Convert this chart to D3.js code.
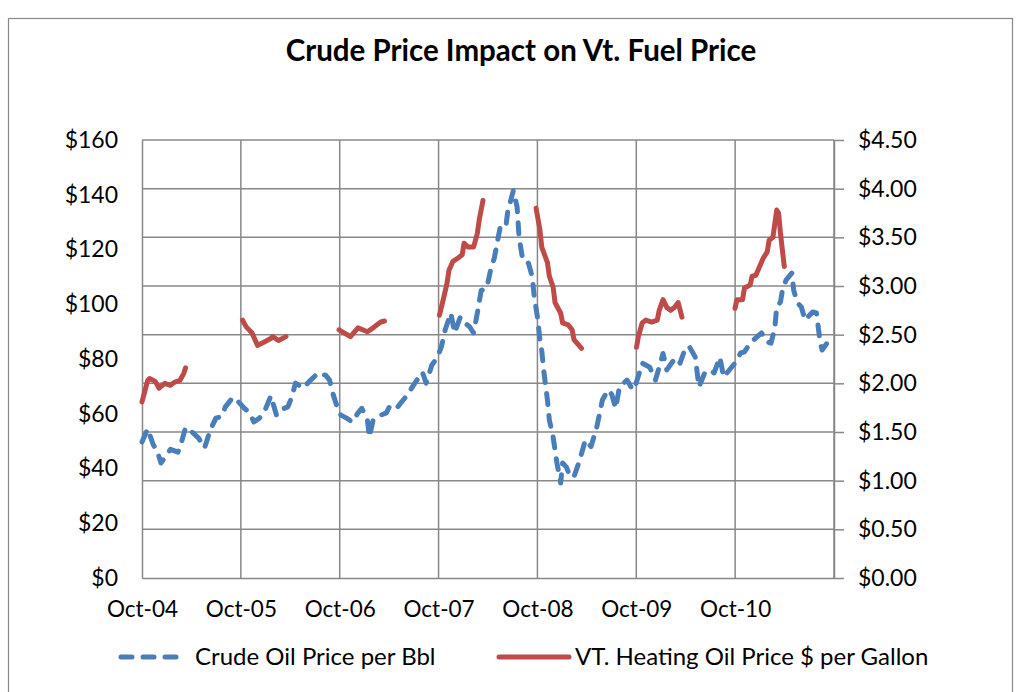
<!DOCTYPE html>
<html><head><meta charset="utf-8">
<script src="https://cdn.jsdelivr.net/npm/d3@7"></script>
<style>
body{margin:0;background:#fff}
text{font-family:Lato,"Open Sans",sans-serif;fill:#000}
</style>
</head><body>
<svg id="c" width="1023" height="692"></svg>
<script>
// ---- data ----
const title = "Crude Price Impact on Vt. Fuel Price";
const tickLabels = ["Oct-04","Oct-05","Oct-06","Oct-07","Oct-08","Oct-09","Oct-10"];
const leftTicks = [0,20,40,60,80,100,120,140,160];
const rightTicks = [0,0.5,1,1.5,2,2.5,3,3.5,4,4.5];
const seriesNames = ["Crude Oil Price per Bbl","VT. Heating Oil Price $ per Gallon"];
// [weeks since Oct-04, $ per barrel]
const crude = [[0,49.7],[3,54.5],[6,48.6],[8,46.5],[10,42],[12,44],[15,47],[19,46],[21,50],[23,55],
[27,53],[30,51],[33,47.5],[36,54],[39,58.4],[42,59],[44,62.5],[48,66],[51,64.3],[54,62],
[57,60.3],[59,57],[62,58.4],[65,61.4],[68,66.5],[71,59.5],[73,61.4],[77,62.5],[79,66],[81,71.2],
[85,69.4],[89,72.3],[93,74.9],[97,74],[99,72.3],[101,66.8],[103,62.5],[105,59.5],[108,58.4],[111,57],
[114,60.3],[116,62],[119,57.7],[120,51.5],[122,57.7],[126,59.5],[129,60.3],[131,63.2],[135,62.5],[137,64.3],
[140,66.8],[144,71.2],[148,75.2],[150,71.2],[153,77.8],[156,80.7],[158,84.4],[160,90.6],[163,96.8],[165,89.5],
[168,95.3],[170,93.5],[173,91.7],[175,89.5],[177,96.8],[179,105],[182,106],[184,112.5],[186,117],[189,128],
[192,128],[193,133.7],[196,141.5],[198,135.5],[199,124.6],[201,116],[204,115],[206,110],[207,103],[209,94],
[210,87],[211,83],[212,76],[214,65],[215,57.7],[217,51.5],[218,46.8],[219,42],[221,34.7],[222,42],
[224,40.5],[226,37],[228,37],[231,43],[234,50.4],[237,48],[240,55],[243,65],[246,68.7],[248,67],
[250,62],[252,69.8],[256,72.3],[259,68.7],[260,69.4],[263,76],[264,78.5],[268,77],[271,72.3],[273,77],
[275,82],[277,76],[280,79],[282,80.4],[284,78.5],[287,84.4],[289,84.4],[292,80.7],[294,69.8],[297,74.9],
[300,76],[302,74.9],[305,80.7],[307,73.4],[310,76],[313,78.5],[316,82.2],[318,82.6],[321,85.8],[324,87.7],
[327,89.5],[330,86.2],[332,85.8],[334,91.3],[335,99],[337,100.8],[338,105],[340,108.9],[343,111.4],[344,105],
[346,100.5],[348,99],[350,94.2],[351,95],[354,97.2],[356,96.8],[357,91.3],[358,85.8],[359,83.3],[362,86.2],[364,84]];
// heating seasons: [weeks since Oct-04, $ per gallon]
const heat0405 = [[0,1.81],[3,2.03],[4,2.05],[7,2.02],[9,1.95],[12,2.0],[15,1.98],[17,2.01],[20,2.03],[22,2.1],[23,2.16]];
const heat0506 = [[53,2.65],[55,2.58],[58,2.52],[61,2.39],[64,2.42],[68,2.46],[69,2.48],[72,2.44],[76,2.48]];
const heat0607 = [[104,2.55],[110,2.48],[114,2.57],[119,2.53],[122,2.57],[126,2.63],[128,2.64]];
const heat0708 = [[157,2.70],[159,2.86],[161,3.03],[162,3.16],[164,3.25],[167,3.29],[169,3.32],[170,3.44],[172,3.40],[175,3.40],[177,3.54],[178,3.68],[180,3.88]];
const heat0809 = [[208,3.80],[210,3.58],[211,3.40],[214,3.24],[215,3.10],[217,2.99],[218,2.83],[221,2.72],[222,2.62],[225,2.60],[227,2.55],[228,2.45],[232,2.36]];
const heat0910 = [[261,2.37],[262,2.48],[264,2.62],[266,2.65],[269,2.63],[272,2.65],[273,2.75],[275,2.86],[277,2.78],[279,2.75],[281,2.78],[283,2.83],[285,2.68]];
const heat1011 = [[313,2.77],[314,2.86],[317,2.86],[318,2.98],[321,3.01],[322,3.10],[324,3.11],[326,3.20],[328,3.29],[330,3.35],[331,3.47],[333,3.50],[335,3.78],[336,3.75],[337,3.54],[339,3.20]];
const heatSeasons = [heat0405,heat0506,heat0607,heat0708,heat0809,heat0910,heat1011];

// ---- layout ----
const L = 142, R = 834, T = 140, B = 578;
const weeksPerYear = 365.25/7;
const BLUE = "#4A7EBB", RED = "#BE4B48", GRID = "#888888";
const DASH = "11 11";
const svg = d3.select("#c");

const x = d3.scaleLinear().domain([0, weeksPerYear*7]).range([L, R]);
const yL = d3.scaleLinear().domain([0,160]).range([B, T]);
const yR = d3.scaleLinear().domain([0,4.5]).range([B, T]);

// outer border
svg.append("rect").attr("x",8.5).attr("y",18.5).attr("width",1004).attr("height",700)
  .attr("fill","#fff").attr("stroke","#888").attr("stroke-width",1.2);

// title
svg.append("text").attr("x",521).attr("y",61).attr("text-anchor","middle")
  .style("font-size","29.5px").style("font-weight","bold").text(title);

// horizontal gridlines (right axis ticks)
svg.append("g").selectAll("line").data(rightTicks.filter(d=>d>0)).join("line")
  .attr("x1",L).attr("x2",R).attr("y1",d=>yR(d)).attr("y2",d=>yR(d))
  .attr("stroke",GRID).attr("stroke-width",1.5);
// vertical gridlines
const yearTicks = d3.range(0,8).map(i=>i*weeksPerYear);
svg.append("g").selectAll("line").data(yearTicks.slice(1)).join("line")
  .attr("x1",d=>x(d)).attr("x2",d=>x(d)).attr("y1",T).attr("y2",B)
  .attr("stroke",GRID).attr("stroke-width",1.5);

// bottom axis
const xAxis = d3.axisBottom(x).tickValues(yearTicks.slice(0,7)).tickSize(0).tickPadding(23)
  .tickFormat((d,i)=>tickLabels[i]);
const gx = svg.append("g").attr("transform",`translate(0,${B})`).call(xAxis);
gx.select(".domain").attr("stroke",GRID).attr("stroke-width",1.5);
gx.selectAll("text").style("font-size","22.5px").attr("dy","0.71em");

// left axis
const gl = svg.append("g").attr("transform",`translate(${L},0)`)
  .call(d3.axisLeft(yL).tickValues(leftTicks).tickSize(0).tickPadding(24).tickFormat(d=>"$"+d));
gl.select(".domain").attr("stroke",GRID).attr("stroke-width",1.5);
gl.selectAll("text").style("font-size","23px");

// right axis
const gr = svg.append("g").attr("transform",`translate(${R},0)`)
  .call(d3.axisRight(yR).tickValues(rightTicks).tickSize(10).tickSizeOuter(0).tickPadding(14).tickFormat(d=>"$"+d3.format(".2f")(d)));
gr.select(".domain").attr("stroke",GRID).attr("stroke-width",1.5);
gr.selectAll(".tick line").attr("stroke",GRID).attr("stroke-width",1.5);
gr.selectAll("text").style("font-size","23px");

// series
const crudeLine = d3.line().x(d=>x(d[0])).y(d=>yL(d[1]));
svg.append("path").datum(crude).attr("d",crudeLine)
  .attr("fill","none").attr("stroke",BLUE).attr("stroke-width",5)
  .attr("stroke-dasharray",DASH).attr("stroke-linecap","round").attr("stroke-linejoin","round");

const heatLine = d3.line().x(d=>x(d[0])).y(d=>yR(d[1]));
svg.append("g").selectAll("path").data(heatSeasons).join("path").attr("d",heatLine)
  .attr("fill","none").attr("stroke",RED).attr("stroke-width",5)
  .attr("stroke-linecap","round").attr("stroke-linejoin","round");

// legend
const lg = svg.append("g");
lg.append("line").attr("x1",121).attr("x2",181).attr("y1",657).attr("y2",657)
  .attr("stroke",BLUE).attr("stroke-width",5).attr("stroke-dasharray",DASH).attr("stroke-linecap","round");
lg.append("text").attr("x",195).attr("y",665).style("font-size","24px").text(seriesNames[0]);
lg.append("line").attr("x1",499).attr("x2",569).attr("y1",657).attr("y2",657)
  .attr("stroke",RED).attr("stroke-width",5).attr("stroke-linecap","round");
lg.append("text").attr("x",575).attr("y",665).style("font-size","24px").text(seriesNames[1]);
</script>
</body></html>
